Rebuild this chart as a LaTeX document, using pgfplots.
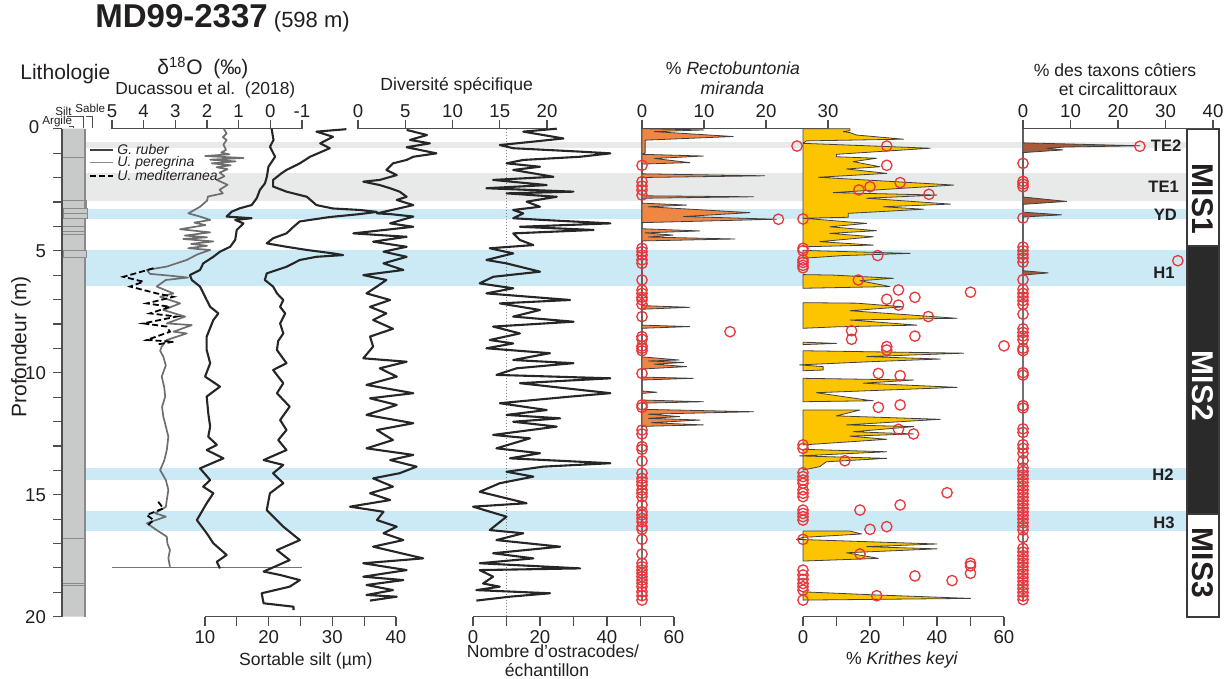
\documentclass[border=0pt]{standalone}
\usepackage{fontspec}
\setmainfont{Liberation Sans}
\usepackage{pgfplots}
\pgfplotsset{compat=1.18}
\definecolor{txt}{HTML}{231F20}
\definecolor{axc}{HTML}{4D4D4D}
\definecolor{bandblue}{HTML}{CCE9F6}
\definecolor{bandgrey}{HTML}{E8E9E9}
\definecolor{litgrey}{HTML}{C8C9C9}
\definecolor{litline}{HTML}{8A8A8A}
\definecolor{crvc}{HTML}{262626}
\definecolor{pere}{HTML}{6E6E6E}
\definecolor{recto}{HTML}{EF8643}
\definecolor{krith}{HTML}{FDC400}
\definecolor{coast}{HTML}{A85A3C}
\definecolor{circ}{HTML}{E8373B}
\definecolor{misblack}{HTML}{2A2A2A}
\definecolor{misedge}{HTML}{3A3A3A}
\newcommand{\fs}[1]{\fontsize{#1}{#1}\selectfont}
\pgfplotsset{
  panel/.style={scale only axis, height=244pt, ymin=0, ymax=20, y dir=reverse, clip=false,
    tick align=outside, major tick length=4.5pt,
    tick style={axc, line width=0.6pt},
    axis line style={-, axc, line width=0.6pt},
    tick label style={font=\fs{9.3}, text=txt},
    /pgf/number format/assume math mode=true,
    anchor=south west},
  toppanel/.style={panel, axis y line=none, ytick=\empty, axis x line*=top, xticklabel style={inner sep=1pt}},
  botpanel/.style={panel, axis y line=none, ytick=\empty, axis x line*=bottom, xticklabel style={inner sep=2pt}},
  circles/.style={only marks, mark=o, mark size=2.6pt, mark options={circ, line width=0.65pt}},
  crv/.style={crvc, line width=1.05pt, line join=round, mark=none},
  fillc/.style={draw=black!75, line width=0.4pt, line join=round, mark=none},
}
\begin{document}
\begin{tikzpicture}
\useasboundingbox (0,0) rectangle (614pt,339.5pt);
% ---------- base axis: bands and MIS column (x in pixels, y in depth) ----------
\begin{axis}[scale only axis, width=614pt, height=244pt, at={(0pt,31.15pt)}, anchor=south west,
  xmin=0, xmax=1228, ymin=0, ymax=20, y dir=reverse, hide axis, clip=false]
  \fill[bandgrey] (axis cs:86,0.53) rectangle (axis cs:1187,0.78);
  \fill[bandgrey] (axis cs:86,1.82) rectangle (axis cs:1187,2.95);
  \fill[bandblue] (axis cs:86,3.29) rectangle (axis cs:1187,3.71);
  \fill[bandblue] (axis cs:86,4.98) rectangle (axis cs:1187,6.44);
  \fill[bandblue] (axis cs:86,13.90) rectangle (axis cs:1187,14.40);
  \fill[bandblue] (axis cs:86,15.66) rectangle (axis cs:1187,16.50);
  \filldraw[fill=white, draw=misedge, line width=0.9pt] (axis cs:1187,0) rectangle (axis cs:1219,4.82);
  \filldraw[fill=misblack, draw=misedge, line width=0.9pt] (axis cs:1187,4.82) rectangle (axis cs:1219,15.8);
  \filldraw[fill=white, draw=misedge, line width=0.9pt] (axis cs:1187,15.8) rectangle (axis cs:1219,20);
\end{axis}
% ---------- lithology + depth axis ----------
\begin{axis}[panel, width=14pt, at={(31pt,31.15pt)}, xmin=62, xmax=90,
  axis x line=none, axis y line*=left, hide y axis=false, ytick={0,1,...,20},
  yticklabels={,,,,,5,,,,,10,,,,,15,,,,,20}]
  \addplot[fill=litgrey, draw=none] coordinates {(63,0) (85,0) (85,20) (63,20) (63,0)};
  \addplot[litline, line width=0.6pt] coordinates {(85,0) (85,20)};
  \addplot[fill=litgrey, draw=litline, line width=0.5pt] coordinates {(63,3.28) (87,3.28) (87,3.70) (63,3.70) (63,3.28)};
  \addplot[fill=litgrey, draw=litline, line width=0.5pt] coordinates {(63,5.00) (86,5.00) (86,5.27) (63,5.27) (63,5.00)};
  \addplot[litline, line width=0.5pt] coordinates {(63,1.19) (85,1.19)};
  \addplot[litline, line width=0.5pt] coordinates {(63,2.95) (86,2.95) (86,3.28)};
  \addplot[litline, line width=0.5pt] coordinates {(63,3.47) (87,3.47)};
  \addplot[litline, line width=0.5pt] coordinates {(63,3.99) (85,3.99)};
  \addplot[litline, line width=0.5pt] coordinates {(63,4.22) (85,4.22)};
  \addplot[litline, line width=0.5pt] coordinates {(63,4.32) (85,4.32)};
  \addplot[litline, line width=0.5pt] coordinates {(63,16.79) (85,16.79)};
  \addplot[litline, line width=0.5pt] coordinates {(63,18.63) (85,18.63)};
  \addplot[litline, line width=0.5pt] coordinates {(63,18.74) (85,18.74)};
\end{axis}
% ---------- delta 18O ----------
\begin{axis}[toppanel, width=95pt, at={(56pt,31.15pt)}, xmin=-1, xmax=5, x dir=reverse,
  xtick={-1,0,1,2,3,4,5}, xticklabels={-1,0,1,2,3,4,5}]
  \addplot[black!55, line width=0.6pt] coordinates {(5,18) (-1,18)};
  % U. peregrina
  \addplot[pere, line width=0.85pt, line join=round] coordinates {
   (1.47,0) (1.38,0.2) (1.5,0.35) (1.38,0.46) (1.48,0.65) (1.4,0.87) (1.55,0.98) (1.3,1.05)
   (2.06,1.12) (0.85,1.2) (1.9,1.27) (1.1,1.34) (1.85,1.42) (1.25,1.5) (1.7,1.58) (1.35,1.66)
   (1.6,1.8) (1.45,1.95) (1.69,2.1) (1.35,2.3) (1.6,2.5) (1.5,2.65) (1.97,2.78) (2.0,2.95)
   (2.22,3.2) (2.59,3.47) (2.22,3.6) (1.9,3.74) (2.4,3.85) (2.05,3.95) (2.85,4.12) (1.9,4.25)
   (2.7,4.38) (2.0,4.45) (2.75,4.52) (1.8,4.62) (2.5,4.72) (2.0,4.8) (2.59,4.9) (1.9,4.97)
   (2.3,5.15) (2.64,5.38) (3.27,5.65) (3.9,5.79) (3.8,5.95) (3.2,6.02) (2.6,6.1) (3.3,6.2)
   (3.59,6.47) (3.06,6.75) (3.48,6.89) (2.85,7.16) (3.38,7.43) (2.69,7.7) (3.27,7.98) (2.48,8.05)
   (3.06,8.32) (2.64,8.39) (3.27,8.66) (3.43,8.93) (3.48,9.1) (3.38,9.34) (3.3,9.7) (3.43,10.16)
   (3.35,10.6) (3.32,10.98) (3.42,11.4) (3.38,11.8) (3.3,12.2) (3.22,12.62) (3.27,13.17) (3.35,13.6)
   (3.48,13.99) (3.3,14.4) (3.22,14.8) (3.27,15.22) (3.3,15.5) (3.64,15.76) (3.3,15.9) (3.9,16.17)
   (3.59,16.45) (3.27,16.72) (3.25,17.0) (3.17,17.27) (3.22,17.6) (3.17,17.95)};
  % U. mediterranea
  \addplot[black, line width=0.9pt, dash pattern=on 3pt off 1.5pt] coordinates {
   (3.69,5.72) (4.64,6.07) (4.01,6.27) (4.43,6.47) (3.59,6.75) (3.06,6.89) (3.9,7.16) (3.17,7.3)
   (3.8,7.57) (2.96,7.7) (4.01,7.98) (3.27,8.11) (3.17,8.32) (3.9,8.66) (3.06,8.73) (3.6,8.85)};
  \addplot[black, line width=0.9pt, dash pattern=on 3pt off 1.5pt] coordinates {
   (3.54,15.29) (3.38,15.56) (3.9,15.83) (3.69,16.04) (3.85,16.24)};
  % G. ruber
  \addplot[crv] coordinates {
   (-0.04,0) (-0.1,0.46) (0.01,0.74) (-0.15,1.15) (0.06,1.56) (0.11,1.97) (0.17,2.24) (0.33,2.51)
   (0.43,2.85) (0.59,3.13) (0.96,3.26) (1.22,3.40) (1.38,3.60) (0.59,3.67) (1.11,3.74) (0.85,3.88)
   (1.06,4.15) (1.11,4.56) (1.27,4.84) (1.59,5.04) (1.80,5.25) (2.12,5.52) (2.22,5.79) (2.54,6.00)
   (2.48,6.20) (2.22,6.47) (2.01,7.02) (1.90,7.30) (1.64,7.57) (1.80,7.84) (2.01,8.52) (2.01,9.07)
   (1.90,9.61) (2.06,10.16) (1.59,10.57) (2.01,10.98) (1.96,11.66) (1.90,12.21) (1.96,12.62) (1.69,12.96)
   (2.01,13.17) (1.48,13.51) (2.22,13.92) (1.90,14.40) (2.12,14.67) (1.80,14.94) (2.01,15.35) (2.32,16.04)
   (2.01,16.58) (1.80,16.99) (1.38,17.47) (1.69,17.75) (1.59,18.02)};
\end{axis}
% ---------- sortable silt ----------
\begin{axis}[botpanel, width=95.5pt, at={(102.5pt,31.15pt)}, xmin=10, xmax=40,
  xtick={10,15,...,40}, xticklabels={10,,20,,30,,40}]
  \addplot[crv] coordinates {
   (32.2,0.02) (27.5,0.12) (30.1,0.33) (28.1,0.6) (29.6,0.8) (26.5,1.15) (24.9,1.42) (22.8,1.69)
   (22.0,1.83) (20.7,2.1) (20.7,2.37) (22.8,2.58) (26.0,2.79) (27.5,3.13) (30.1,3.27) (34.3,3.33)
   (37.0,3.41) (34.3,3.5) (29.6,3.62) (24.9,3.8) (23.9,4.02) (22.8,4.29) (20.7,4.49) (19.7,4.7)
   (22.8,4.84) (26.0,4.97) (30.1,5.11) (31.7,5.18) (27.5,5.25) (24.9,5.38) (22.8,5.66) (19.7,5.93)
   (19.4,6.2) (20.7,6.47) (21.3,6.75) (22.3,7.02) (21.8,7.3) (22.6,7.57) (21.8,7.98) (22.3,8.39)
   (21.5,8.7) (21.3,9.07) (22.8,9.61) (20.7,9.89) (22.3,10.43) (21.3,10.84) (23.3,11.39) (21.8,11.94)
   (22.8,12.35) (21.5,12.76) (22.8,13.17) (19.2,13.58) (22.3,13.78) (20.7,14.12) (22.3,14.53) (20.2,14.94)
   (19.7,15.63) (22.3,16.31) (24.9,16.86) (21.3,17.27) (23.3,17.68) (19.2,18.15) (21.8,18.29) (24.9,18.5)
   (23.3,18.77) (18.9,19.04) (19.2,19.45) (23.9,19.59) (23.9,19.73)};
\end{axis}
% ---------- species diversity ----------
\begin{axis}[toppanel, width=94.5pt, at={(179pt,31.15pt)}, xmin=0, xmax=20, xtick={0,5,...,20}]
  \addplot[crv] coordinates {
   (5.15,0.05) (7.3,0.26) (5.5,0.46) (7.6,0.6) (5.15,0.76) (8.3,1.01) (5.85,1.15) (5.15,1.28)
   (3.7,1.42) (3.0,1.69) (4.1,1.9) (2.3,2.1) (0.56,2.17) (2.3,2.31) (3.4,2.44) (4.4,2.58)
   (5.15,2.79) (4.1,2.92) (5.85,3.13) (4.4,3.26) (2.0,3.47) (3.4,3.5) (5.85,3.6) (3.4,3.88)
   (5.85,4.02) (-0.5,4.29) (5.15,4.43) (1.6,4.63) (5.15,4.84) (2.7,5.04) (5.15,5.25) (2.7,5.52)
   (4.8,5.79) (0.56,6.0) (3.0,6.2) (2.0,6.47) (0.9,6.75) (3.4,7.02) (1.27,7.3) (3.0,7.57)
   (1.6,7.84) (3.7,8.2) (1.27,8.52) (1.6,8.93) (0.56,9.41) (5.15,9.55) (2.3,9.82) (4.1,10.16)
   (0.9,10.5) (5.85,10.84) (1.27,11.05) (4.1,11.32) (0.9,11.73) (5.85,12.07) (2.0,12.35) (3.7,12.76)
   (0.9,13.1) (5.85,13.37) (3.4,13.58) (6.2,13.85) (4.4,14.12) (1.6,14.33) (3.7,14.67) (1.27,14.94)
   (3.4,15.22) (-0.85,15.49) (2.7,15.7) (2.0,16.04) (4.1,16.31) (2.7,16.58) (4.8,16.86) (1.6,17.13)
   (6.9,17.61) (0.56,17.81) (5.15,18.09) (0.56,18.36) (4.8,18.5) (0.9,18.7) (3.7,18.91) (0.9,19.11)
   (4.1,19.18) (1.27,19.34)};
\end{axis}
% ---------- number of ostracods ----------
\begin{axis}[botpanel, width=100.5pt, at={(236.5pt,31.15pt)}, xmin=0, xmax=60,
  xtick={0,10,...,60}, xticklabels={0,,20,,40,,60}]
  \addplot[black!50, densely dotted, line width=0.5pt] coordinates {(10,0) (10,20)};
  \addplot[crv] coordinates {
   (25,0.0) (15,0.12) (27,0.4) (18,0.53) (8,0.67) (12,0.8) (32,0.94) (41,1.01) (32,1.15) (15,1.28)
   (10,1.42) (20,1.56) (12,1.69) (24,1.97) (6,2.1) (22,2.31) (4,2.44) (30,2.58) (10,2.65) (25,2.79)
   (16,2.99) (20,3.2) (12,3.33) (15,3.47) (12,3.67) (21,3.74) (41,3.88) (14,4.02) (36,4.15) (12,4.29)
   (14,4.56) (18,4.77) (5,4.9) (12,5.11) (4,5.38) (10,5.52) (20,5.86) (6,6.07) (2,6.34) (12,6.54)
   (4,6.75) (29,7.02) (8,7.16) (20,7.43) (12,7.7) (30,7.91) (6,8.11) (14,8.39) (5,8.66) (12,8.8)
   (4,9.0) (23,9.2) (12,9.48) (30,9.61) (13,9.82) (7,10.09) (41,10.23) (14,10.43) (41,10.84) (29,10.98)
   (8,11.25) (22,11.53) (10,11.73) (26,11.87) (12,12.01) (25,12.21) (6,12.55) (17,12.69) (7,13.1) (20,13.3)
   (11,13.51) (41,13.71) (21,13.85) (10,14.06) (18,14.26) (8,14.53) (2,14.88) (16,15.35) (0,15.49) (10,15.9)
   (5,16.45) (15,16.58) (7,16.86) (26,17.13) (6,17.4) (18,17.61) (2,17.81) (32,18.02) (2,18.09) (6,18.36)
   (3,18.64) (8,18.77) (1,18.91) (23,19.04) (11,19.18) (1,19.34)};
\end{axis}
% ---------- % Rectobuntonia miranda ----------
\begin{axis}[toppanel, width=93pt, at={(321pt,31.15pt)}, xmin=0, xmax=30, xtick={0,10,20,30}]
  \addplot[black!55, line width=0.6pt] coordinates {(0,0) (0,19.35)};
  \addplot[fill=recto, fillc] coordinates {
   (0,0) (10,0.05) (2,0.12) (14.7,0.32) (0.5,0.47) (0.5,1.0) (0,1.05) (9.9,1.12) (2,1.22) (7.7,1.39)
   (0,1.45) (0,1.85) (19.8,1.93) (0,2.0) (0,2.75) (18,2.79) (0,2.85) (0,3.05) (7.2,3.13) (1,3.2)
   (17.4,3.44) (6.7,3.6) (21.7,3.71) (0,3.85) (0,4.1) (9.3,4.19) (0.5,4.27) (5,4.36) (1,4.44) (15,4.52)
   (0,4.6) (0,7.25) (7.7,7.32) (0,7.4) (0,8.05) (7.7,8.11) (0,8.18) (0,9.35) (6,9.48) (1,9.52)
   (6.7,9.58) (2,9.65) (7.2,9.75) (0,9.85) (0,10.18) (8.3,10.23) (0,10.3) (0,10.75) (2.4,10.8) (0,10.85)
   (0,11.12) (9.9,11.19) (0,11.25) (0,11.5) (18,11.6) (1,11.7) (6.1,11.8) (1,11.87) (9.4,11.94) (1.5,12.05)
   (9.9,12.14) (0,12.2) (0,0)};
  \addplot[circles] coordinates {
   (25,0.71) (0,1.50) (0,2.17) (0,2.35) (0,2.51) (0,2.72) (22,3.71) (0,4.90) (0,5.04) (0,5.18)
   (0,5.38) (0,5.52) (0,6.20) (0,6.61) (0,6.75) (0,6.91) (0,7.02) (0,7.20) (0,7.70) (14.2,8.32)
   (0,8.52) (0,8.63) (0,8.91) (0,9.0) (0,9.1) (0,10.03) (0,11.32) (0,11.42) (0,12.35) (0,12.51)
   (0,13.03) (0,13.14) (0,13.62) (0,14.12) (0,14.33) (0,14.47) (0,14.60) (0,14.81) (0,14.94) (0,15.08)
   (0,15.42) (0,15.70) (0,15.83) (0,15.97) (0,16.11) (0,16.31) (0,16.42) (0,16.83) (0,17.43) (0,17.81)
   (0,17.95) (0,18.09) (0,18.22) (0,18.36) (0,18.50) (0,18.63) (0,18.77) (0,18.98) (0,19.14) (0,19.32)};
\end{axis}
% ---------- % Krithes keyi ----------
\begin{axis}[botpanel, width=100.5pt, at={(401.5pt,31.15pt)}, xmin=0, xmax=60,
  xtick={0,10,...,60}, xticklabels={0,,20,,40,,60}]
  \addplot[fill=krith, fillc] coordinates {
   (0,0) (14,0) (14,0.08) (12,0.12) (14,0.16) (16,0.26) (30,0.43) (1,0.5) (0,0.6) (38,0.8)
   (10,1.05) (10,1.15) (22,1.21) (15,1.35) (23,1.56) (13,1.65) (25,1.83) (4.6,1.99) (45,2.31) (9,2.62)
   (40,2.72) (19,2.85) (44,3.09) (24,3.2) (36,3.3) (13.5,3.47) (13.5,3.63) (0,3.67) (19,3.88) (8,4.02)
   (22,4.18) (8,4.29) (21,4.43) (5,4.63) (21,4.77) (0,4.84) (0,0)};
  \addplot[fill=krith, fillc] coordinates {(0,4.98) (3,5.0) (32,5.11) (12,5.2) (0,5.31) (0,4.98)};
  \addplot[fill=krith, fillc] coordinates {(0,5.98) (9,6.0) (27,6.13) (17,6.23) (26,6.47) (0,6.54) (0,5.98)};
  \addplot[fill=krith, fillc] coordinates {(0,7.13) (16,7.15) (30,7.3) (14,7.46) (46,7.77) (14,7.84) (34,8.05) (10,8.12) (0,8.18) (0,7.13)};
  \addplot[fill=krith, fillc] coordinates {(0,8.75) (10,8.8) (0,8.85) (0,8.75)};
  \addplot[fill=krith, fillc] coordinates {(0,9.1) (48,9.2) (19,9.34) (41,9.44) (20,9.55) (-1,9.68) (6,9.75) (6,9.89) (0,9.92) (0,9.1)};
  \addplot[fill=krith, fillc] coordinates {(0,10.23) (33,10.3) (18,10.43) (46,10.6) (4,10.82) (19,11.12) (21,11.15) (0,11.19) (0,10.23)};
  \addplot[fill=krith, fillc] coordinates {(0,11.53) (17,11.53) (10,11.77) (41,11.91) (13,12.14) (33,12.21) (15,12.42) (33,12.51) (14,12.6) (25,12.73) (0,12.96) (0,11.53)};
  \addplot[fill=krith, fillc] coordinates {(0,13.14) (25,13.24) (-1,13.41) (25,13.51) (7,13.65) (5,13.85) (0,13.99) (0,13.14)};
  \addplot[fill=krith, fillc] coordinates {(0,16.49) (14,16.49) (17.5,16.61) (0,16.75) (-2,16.83) (40,17.02) (19,17.13) (40,17.22) (13,17.38) (22.5,17.61) (0,17.72) (0,16.49)};
  \addplot[fill=krith, fillc] coordinates {(0,18.98) (22,19.11) (50,19.25) (0,19.32) (0,18.98)};
  \addplot[circles] coordinates {
   (25,0.71) (25,1.50) (29,2.21) (20,2.38) (16.7,2.51) (37.6,2.69) (0,3.70) (0,4.90) (0,5.0) (22.3,5.2)
   (0,5.38) (0,5.48) (0,5.6) (0,5.7) (16.5,6.2) (28.5,6.61) (50,6.7) (33.4,6.91) (25,6.99) (28.5,7.23)
   (37.4,7.7) (14.5,8.28) (33.4,8.5) (14.5,8.63) (60,8.9) (25,8.93) (25,9.07) (22.5,10.03) (29,10.12) (29,11.32)
   (22.5,11.42) (28.5,12.32) (33,12.51) (0,12.96) (0,13.1) (12.5,13.61) (0,14.1) (0,14.26) (0,14.4) (0,14.53)
   (0,14.8) (43,14.92) (0,14.94) (0,15.08) (29,15.42) (17,15.63) (0,15.63) (0,15.77) (0,15.9) (0,16.04)
   (25,16.31) (20,16.42) (0,16.83) (17,17.43) (50,17.81) (50,17.92) (50,18.22) (33.4,18.33) (44.5,18.52) (0,18.09)
   (0,18.29) (0,18.47) (0,18.64) (0,18.77) (0,18.91) (22,19.14) (0,19.32)};
\end{axis}
% ---------- % coastal taxa ----------
\begin{axis}[toppanel, width=95pt, at={(511.5pt,31.15pt)}, xmin=0, xmax=40, xtick={0,10,...,40}]
  \addplot[black!55, line width=0.6pt] coordinates {(0,0) (0,19.35)};
  \addplot[fill=coast, fillc] coordinates {
   (0,0) (0,0.58) (24.6,0.7) (9,0.75) (5,0.8) (8.4,0.87) (0,0.98) (0,2.8) (9.2,2.98) (0,3.1)
   (0,3.42) (8.1,3.53) (0,3.62) (0,5.82) (5.3,5.91) (0,6.0) (0,0)};
  \addplot[circles] coordinates {
   (24.6,0.72) (32.6,5.41) (0,1.42) (0,2.16) (0,2.27) (0,2.38) (0,3.66) (0,4.85) (0,5.0) (0,5.15)
   (0,5.3) (0,5.47) (0,6.19) (0,6.58) (0,6.75) (0,6.9) (0,7.05) (0,7.2) (0,7.6) (0,8.2)
   (0,8.35) (0,8.5) (0,8.65) (0,9.0) (0,9.1) (0,10.0) (0,10.1) (0,11.35) (0,11.45) (0,12.3)
   (0,12.45) (0,12.95) (0,13.1) (0,13.3) (0,13.6) (0,13.9) (0,14.05) (0,14.2) (0,14.35) (0,14.5)
   (0,14.65) (0,14.8) (0,14.95) (0,15.1) (0,15.25) (0,15.4) (0,15.55) (0,15.7) (0,15.85) (0,16.0)
   (0,16.15) (0,16.3) (0,16.45) (0,16.75) (0,17.2) (0,17.35) (0,17.5) (0,17.65) (0,17.8) (0,17.95)
   (0,18.1) (0,18.25) (0,18.4) (0,18.55) (0,18.7) (0,18.85) (0,19.0) (0,19.15) (0,19.3)};
\end{axis}
% ---------- texts (pixel coordinates, y downward) ----------
\begin{scope}[x=0.5pt, y=-0.5pt, shift={(0,-679)}, every node/.style={text=txt}]
  \node[anchor=base west, inner sep=0] at (95,28) {{\fs{16.5}\bfseries MD99-2337}{\fs{11} (598 m)}};
  \node[anchor=base west, inner sep=0, font=\fs{10.5}] at (20,80) {Lithologie};
  \node[anchor=base west, inner sep=0, font=\fs{10.5}] at (157,75) {δ\textsuperscript{18}O\hspace{0.5em}(‰)};
  \node[anchor=base west, inner sep=0, font=\fs{8.7}] at (115,95) {Ducassou et al.\ \ (2018)};
  \draw[black!75, line width=0.8pt] (90,150) -- (113,150);
  \node[anchor=west, inner sep=0, font=\fs{7}\itshape] at (117,150) {G. ruber};
  \draw[black!45, line width=0.6pt] (90,162.5) -- (113,162.5);
  \node[anchor=west, inner sep=0, font=\fs{7}\itshape] at (117,162.5) {U. peregrina};
  \draw[black, line width=0.9pt, dash pattern=on 3pt off 1.5pt] (90,176) -- (113,176);
  \node[anchor=west, inner sep=0, font=\fs{7}\itshape] at (117,176) {U. mediterranea};
  \node[anchor=base, inner sep=0, font=\fs{8.8}] at (456.7,90.7) {Diversité spécifique};
  \node[anchor=base, inner sep=0, font=\fs{8.8}] at (733,75) {\% \textit{Rectobuntonia}};
  \node[anchor=base, inner sep=0, font=\fs{8.8}] at (732.5,94.3) {\textit{miranda}};
  \node[anchor=base, inner sep=0, font=\fs{8.8}] at (1115,76.3) {\% des taxons côtiers};
  \node[anchor=base, inner sep=0, font=\fs{8.8}] at (1118,95.4) {et circalittoraux};
  \node[anchor=base, inner sep=0, font=\fs{8.8}] at (305.8,665.7) {Sortable silt (µm)};
  \node[anchor=base, inner sep=0, font=\fs{8.8}] at (553,658) {Nombre d’ostracodes/};
  \node[anchor=base, inner sep=0, font=\fs{8.8}] at (547,676.7) {échantillon};
  \node[anchor=base, inner sep=0, font=\fs{8.8}] at (902,665) {\% \textit{Krithes keyi}};
  \node[rotate=90, inner sep=0, font=\fs{10.5}] at (21,347) {Profondeur (m)};
  \node[inner sep=0, font=\fs{9.3}] at (34,126.7) {0};
  \node[anchor=base west, inner sep=0, font=\fs{5.8}] at (42,125) {Argile};
  \node[anchor=base west, inner sep=0, font=\fs{5.8}] at (55,115.5) {Silt};
  \node[anchor=base west, inner sep=0, font=\fs{5.8}] at (75,112.5) {Sable};
  \draw[axc, line width=0.4pt] (69,126) -- (73,126) -- (73,128);
  \draw[axc, line width=0.4pt] (67,116) -- (83,116) -- (83,128);
  \draw[axc, line width=0.4pt] (86,116) -- (92,116) -- (92,128);
  \node[anchor=east, inner sep=0, font=\fs{8.3}\bfseries] at (1181.7,145.7) {TE2};
  \node[anchor=east, inner sep=0, font=\fs{8.3}\bfseries] at (1179.3,187.3) {TE1};
  \node[anchor=east, inner sep=0, font=\fs{8.3}\bfseries] at (1177.3,214.3) {YD};
  \node[anchor=east, inner sep=0, font=\fs{8.3}\bfseries] at (1175,272.3) {H1};
  \node[anchor=east, inner sep=0, font=\fs{8.3}\bfseries] at (1174,475) {H2};
  \node[anchor=east, inner sep=0, font=\fs{8.3}\bfseries] at (1175,523.3) {H3};
  \node[rotate=-90, inner sep=0, font=\fs{15}\bfseries] at (1203,199) {MIS1};
  \node[rotate=-90, inner sep=0, font=\fs{15}\bfseries, text=white] at (1203,386) {MIS2};
  \node[rotate=-90, inner sep=0, font=\fs{15}\bfseries] at (1203,563) {MIS3};
\end{scope}
\end{tikzpicture}
\end{document}
